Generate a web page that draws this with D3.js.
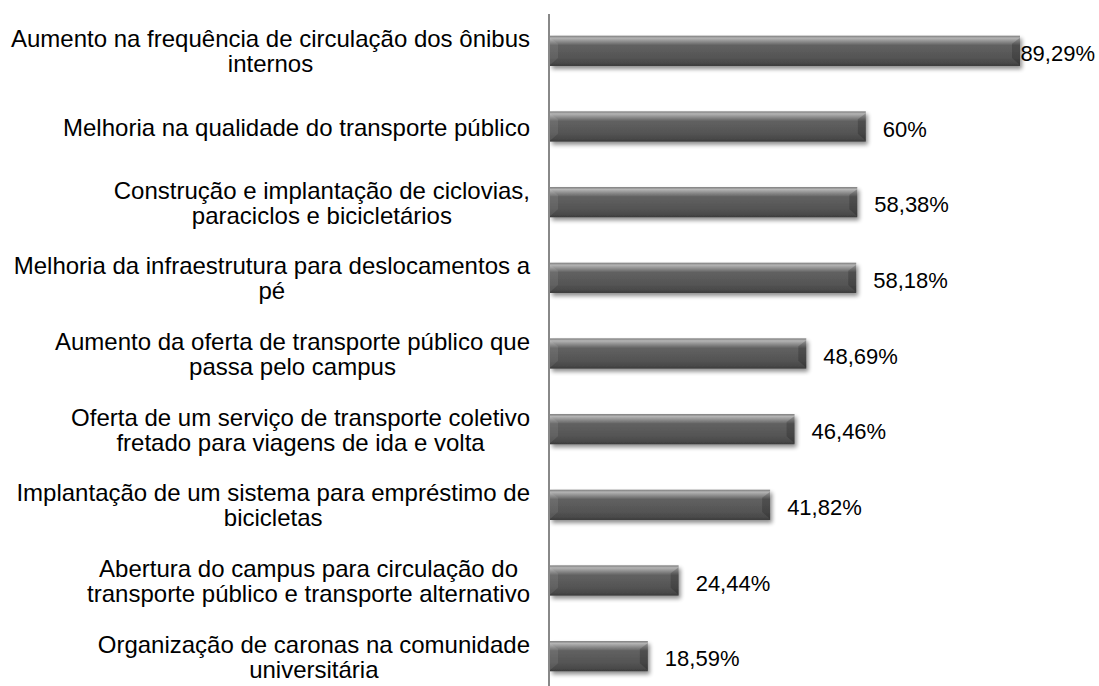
<!DOCTYPE html>
<html>
<head>
<meta charset="utf-8">
<script src="https://cdn.jsdelivr.net/npm/d3@7"></script>
<style>
  body { margin: 0; background: #fff; }
  svg { display: block; font-family: "Liberation Sans", Arial, sans-serif; }
</style>
</head>
<body>
<svg id="chart" width="1099" height="686"></svg>
<script>
// Chart data (top to bottom)
const categories = [
  ["Aumento na frequência de circulação dos ônibus", "internos"],
  ["Melhoria na qualidade do transporte público"],
  ["Construção e implantação de ciclovias,", "paraciclos e bicicletários"],
  ["Melhoria da infraestrutura para deslocamentos a", "pé"],
  ["Aumento da oferta de transporte público que", "passa pelo campus"],
  ["Oferta de um serviço de transporte coletivo", "fretado para viagens de ida e volta"],
  ["Implantação de um sistema para empréstimo de", "bicicletas"],
  ["Abertura do campus para circulação do", "transporte público e transporte alternativo"],
  ["Organização de caronas na comunidade", "universitária"]
];
const values = [89.29, 60, 58.38, 58.18, 48.69, 46.46, 41.82, 24.44, 18.59];
const valueLabels = ["89,29%", "60%", "58,38%", "58,18%", "48,69%", "46,46%", "41,82%", "24,44%", "18,59%"];

const svg = d3.select('#chart');
const width = 1099;
const axisX = 550;
const labelRight = 530;

const x = d3.scaleLinear().domain([0, 89.29]).range([axisX, 1020]);
const y = d3.scaleBand()
  .domain(d3.range(values.length))
  .range([13, 694])
  .paddingInner(0.6)
  .paddingOuter(0.3);

// Gradients and shadow
const defs = svg.append('defs');
const grad = defs.append('linearGradient')
  .attr('id', 'barGrad')
  .attr('x1', 0).attr('y1', 0).attr('x2', 0).attr('y2', 1);
[[0, '#7a7a7a'], [0.08, '#b4b4b4'], [0.2, '#8a8a8a'], [0.32, '#616161'],
 [0.7, '#555555'], [0.9, '#4a4a4a'], [1, '#3a3a3a']].forEach(([o, c]) => {
  grad.append('stop').attr('offset', o).attr('stop-color', c);
});

const shadow = defs.append('filter')
  .attr('id', 'shadow')
  .attr('x', '-5%').attr('y', '-30%').attr('width', '115%').attr('height', '180%');
shadow.append('feGaussianBlur').attr('in', 'SourceAlpha').attr('stdDeviation', 2.2);
shadow.append('feOffset').attr('dx', 2).attr('dy', 3).attr('result', 'blur');
shadow.append('feComponentTransfer').append('feFuncA').attr('type', 'linear').attr('slope', 0.45);
const merge = shadow.append('feMerge');
merge.append('feMergeNode');
merge.append('feMergeNode').attr('in', 'SourceGraphic');

// Bars
const bw = y.bandwidth();
const bevel = 8;
const bars = svg.append('g').selectAll('g')
  .data(values)
  .enter()
  .append('g');

bars.append('rect')
  .attr('x', axisX)
  .attr('y', (d, i) => y(i))
  .attr('width', d => x(d) - axisX)
  .attr('height', bw)
  .attr('fill', 'url(#barGrad)')
  .attr('filter', 'url(#shadow)');

// left bevel
bars.append('path')
  .attr('d', (d, i) => {
    const y0 = y(i), y1 = y(i) + bw;
    return `M${axisX},${y0 + 2}L${axisX + bevel},${y0 + bevel}L${axisX + bevel},${y1 - bevel}L${axisX},${y1 - 1}Z`;
  })
  .attr('fill', 'rgba(255,255,255,0.08)');

// right bevel
bars.append('path')
  .attr('d', (d, i) => {
    const y0 = y(i), y1 = y(i) + bw, xe = x(d);
    return `M${xe},${y0 + 2}L${xe - bevel},${y0 + bevel}L${xe - bevel},${y1 - bevel}L${xe},${y1 - 1}Z`;
  })
  .attr('fill', 'rgba(0,0,0,0.18)');

// Value labels (pulled left if they would run off the edge)
svg.append('g').selectAll('text')
  .data(values)
  .enter()
  .append('text')
  .attr('y', (d, i) => y(i) + bw / 2 + 10)
  .attr('font-size', 22)
  .attr('fill', '#000')
  .text((d, i) => valueLabels[i])
  .attr('x', function(d) {
    const w = this.getComputedTextLength();
    return Math.min(x(d) + 17, width - 4 - w);
  });

// Axis line
svg.append('line')
  .attr('x1', axisX - 1).attr('x2', axisX - 1)
  .attr('y1', 14).attr('y2', 686)
  .attr('stroke', '#888')
  .attr('stroke-width', 2);

// Category labels: block right-aligned, lines centered on the longest line
const lineH = 25;
const labels = svg.append('g');
categories.forEach((lines, i) => {
  const g = labels.append('g');
  const cy = y(i) + bw / 2;
  const top = cy - (lines.length - 1) * lineH / 2 + 9;
  const texts = lines.map((ln, k) => g.append('text')
    .attr('y', top + k * lineH)
    .attr('font-size', 24)
    .attr('fill', '#000')
    .attr('text-anchor', 'middle')
    .text(ln));
  const maxW = d3.max(texts, t => t.node().getComputedTextLength());
  texts.forEach(t => t.attr('x', labelRight - maxW / 2));
});
</script>
</body>
</html>
